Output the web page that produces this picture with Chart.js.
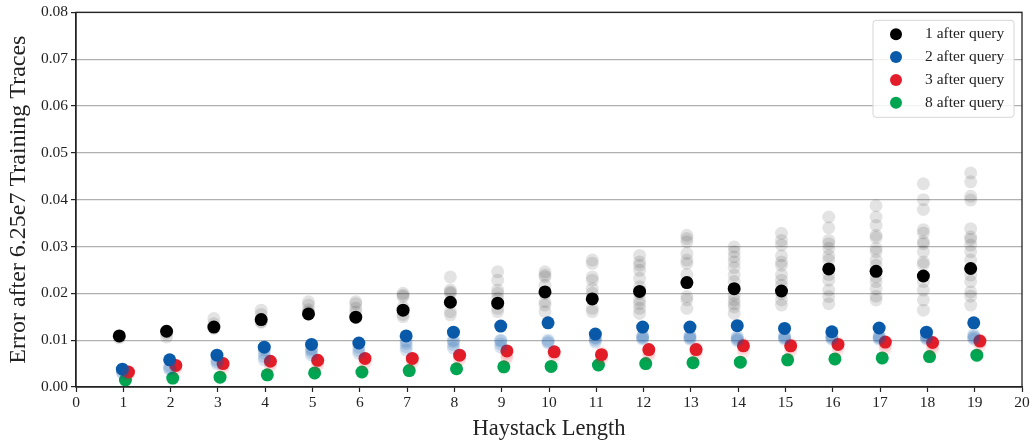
<!DOCTYPE html>
<html>
<head>
<meta charset="utf-8">
<script src="https://cdn.jsdelivr.net/npm/chart.js@4.4.1/dist/chart.umd.min.js"></script>
<style>
  html, body { margin: 0; padding: 0; background: #ffffff; }
  #wrap { width: 1032px; height: 443px; }
</style>
</head>
<body>
<div id="wrap"><canvas id="errChart" width="1032" height="443"></canvas></div>
<script>
// ---- data ----
const haystack = [1, 2, 3, 4, 5, 6, 7, 8, 9, 10, 11, 12, 13, 14, 15, 16, 17, 18, 19];
const seriesLabels = ["1 after query", "2 after query", "3 after query", "8 after query"];

const mean1 = [0.0109, 0.0119, 0.0128, 0.0144, 0.0156, 0.0149, 0.0164, 0.0181, 0.0179, 0.0203, 0.0188, 0.0204, 0.0223, 0.0210, 0.0205, 0.0252, 0.0247, 0.0237, 0.0253];
const mean2 = [0.0038, 0.0058, 0.0068, 0.0085, 0.0091, 0.0094, 0.0109, 0.0117, 0.0130, 0.0137, 0.0113, 0.0128, 0.0128, 0.0131, 0.0125, 0.0118, 0.0126, 0.0117, 0.0137];
const mean3 = [0.0032, 0.0046, 0.0050, 0.0055, 0.0057, 0.0061, 0.0061, 0.0068, 0.0077, 0.0075, 0.0069, 0.0080, 0.0080, 0.0088, 0.0088, 0.0091, 0.0096, 0.0095, 0.0098];
const mean8 = [0.0015, 0.0019, 0.0021, 0.0026, 0.0030, 0.0032, 0.0035, 0.0039, 0.0043, 0.0044, 0.0047, 0.0050, 0.0052, 0.0053, 0.0058, 0.0060, 0.0062, 0.0065, 0.0068];

// individual traces (faint markers), one list per haystack length
const traces1 = [
  [0.0105, 0.0108],
  [0.0107, 0.0115],
  [0.0146, 0.0135, 0.0125],
  [0.0164, 0.0155, 0.0140, 0.0138],
  [0.0182, 0.0175, 0.0165, 0.0160],
  [0.0182, 0.0178, 0.0168, 0.0160],
  [0.0200, 0.0196, 0.0193, 0.0170, 0.0155, 0.0150],
  [0.0235, 0.0207, 0.0203, 0.0200, 0.0161, 0.0154],
  [0.0246, 0.0228, 0.0207, 0.0200, 0.0190, 0.0168, 0.0161],
  [0.0246, 0.0239, 0.0235, 0.0217, 0.0200, 0.0182, 0.0175, 0.0161],
  [0.0271, 0.0264, 0.0235, 0.0228, 0.0210, 0.0200, 0.0168, 0.0161],
  [0.0281, 0.0267, 0.0260, 0.0249, 0.0232, 0.0214, 0.0200, 0.0186, 0.0178, 0.0168, 0.0157],
  [0.0324, 0.0317, 0.0310, 0.0285, 0.0271, 0.0264, 0.0240, 0.0193, 0.0186, 0.0168],
  [0.0299, 0.0289, 0.0278, 0.0267, 0.0255, 0.0239, 0.0225, 0.0196, 0.0186, 0.0178, 0.0171, 0.0157],
  [0.0328, 0.0313, 0.0303, 0.0280, 0.0267, 0.0260, 0.0240, 0.0228, 0.0217, 0.0200, 0.0186, 0.0175],
  [0.0363, 0.0340, 0.0313, 0.0306, 0.0296, 0.0280, 0.0271, 0.0240, 0.0228, 0.0207, 0.0193, 0.0178],
  [0.0387, 0.0363, 0.0345, 0.0324, 0.0319, 0.0296, 0.0289, 0.0271, 0.0260, 0.0235, 0.0225, 0.0210, 0.0194, 0.0186],
  [0.0434, 0.0400, 0.0379, 0.0336, 0.0329, 0.0310, 0.0306, 0.0289, 0.0267, 0.0262, 0.0225, 0.0207, 0.0186, 0.0164],
  [0.0457, 0.0438, 0.0407, 0.0399, 0.0338, 0.0320, 0.0315, 0.0303, 0.0289, 0.0271, 0.0239, 0.0225, 0.0203, 0.0194, 0.0175]
];
const traces2 = [
  [0.0033, 0.0030],
  [0.0045, 0.0040, 0.0038],
  [0.0058, 0.0054, 0.0050],
  [0.0079, 0.0072, 0.0065, 0.0058],
  [0.0082, 0.0079, 0.0074, 0.0068],
  [0.0093, 0.0085, 0.0078, 0.0072],
  [0.0098, 0.0093, 0.0086, 0.0079],
  [0.0100, 0.0097, 0.0090, 0.0083],
  [0.0100, 0.0098, 0.0092, 0.0085],
  [0.0100, 0.0097, 0.0094],
  [0.0106, 0.0104, 0.0100, 0.0096],
  [0.0110, 0.0107, 0.0105, 0.0102],
  [0.0110, 0.0107, 0.0105, 0.0102],
  [0.0108, 0.0104, 0.0102, 0.0099],
  [0.0110, 0.0107, 0.0105, 0.0102],
  [0.0110, 0.0107, 0.0105, 0.0102],
  [0.0110, 0.0107, 0.0105, 0.0102],
  [0.0110, 0.0107, 0.0105, 0.0102],
  [0.0112, 0.0108, 0.0105, 0.0102]
];
const traces3 = [
  [0.0030, 0.0027],
  [0.0042, 0.0038],
  [0.0046, 0.0040],
  [0.0050, 0.0045],
  [0.0052, 0.0046],
  [0.0056, 0.0050],
  [0.0057, 0.0052],
  [0.0063, 0.0058],
  [0.0072, 0.0066, 0.0062],
  [0.0071, 0.0066],
  [0.0073, 0.0065, 0.0060],
  [0.0077, 0.0072, 0.0068],
  [0.0084, 0.0076, 0.0070],
  [0.0092, 0.0083, 0.0075],
  [0.0092, 0.0083, 0.0077],
  [0.0094, 0.0086, 0.0079],
  [0.0093, 0.0088, 0.0082],
  [0.0092, 0.0087, 0.0081],
  [0.0101, 0.0094, 0.0088]
];
const traces8 = [
  [0.0013], [0.0018], [0.0020], [0.0025], [0.0029], [0.0031], [0.0034], [0.0038], [0.0041], [0.0043],
  [0.0046], [0.0049], [0.0051], [0.0052], [0.0056], [0.0058], [0.0060], [0.0063], [0.0066]
];

const yTicks = [0, 0.01, 0.02, 0.03, 0.04, 0.05, 0.06, 0.07, 0.08];

// ---- styling ----
const FONT = "'Liberation Serif', 'Times New Roman', serif";
const colors = ["#000000", "#0a5aaa", "#e31e2a", "#00a552"];
const faint = ["rgba(0,0,0,0.11)", "rgba(10,90,170,0.16)", "rgba(227,30,42,0.10)", "rgba(0,165,82,0.10)"];
const xShift = [-0.085, -0.02, 0.11, 0.045];

function meanPoints(arr, k) {
    return arr.map((v, i) => ({ x: haystack[i] + xShift[k], y: v }));
}
function tracePoints(arr, k) {
    const pts = [];
    arr.forEach((list, i) => list.forEach(v => pts.push({ x: haystack[i] + xShift[k], y: v })));
    return pts;
}

const means = [mean1, mean2, mean3, mean8];
const traces = [traces1, traces2, traces3, traces8];

const datasets = [];
traces.forEach((t, k) => {
    datasets.push({
        label: seriesLabels[k] + " traces",
        data: tracePoints(t, k),
        backgroundColor: faint[k],
        borderWidth: 0,
        pointRadius: 6.5,
        main: false
    });
});
means.forEach((m, k) => {
    datasets.push({
        label: seriesLabels[k],
        data: meanPoints(m, k),
        backgroundColor: colors[k],
        borderWidth: 0,
        pointRadius: 6.5,
        main: true
    });
});

// frame + legend box drawn on top of the plot
const framePlugin = {
    id: "frameLegend",
    afterDraw(chart) {
        const ctx = chart.ctx;
        const a = chart.chartArea;
        ctx.save();
        ctx.strokeStyle = "#222222";
        ctx.lineWidth = 1.3;
        ctx.strokeRect(a.left, a.top, a.right - a.left, a.bottom - a.top);

        // legend
        const bx = a.right - 149, by = a.top + 8, bw = 141, bh = 97;
        ctx.fillStyle = "rgba(255,255,255,0.85)";
        ctx.strokeStyle = "#d6d6d6";
        ctx.lineWidth = 1;
        ctx.beginPath();
        ctx.roundRect(bx, by, bw, bh, 3);
        ctx.fill();
        ctx.stroke();
        ctx.font = "15.5px " + FONT;
        ctx.textBaseline = "middle";
        const mains = chart.data.datasets.filter(d => d.main);
        mains.forEach((d, i) => {
            const yy = by + 14 + i * 22.8;
            ctx.fillStyle = d.backgroundColor;
            ctx.beginPath();
            ctx.arc(bx + 23, yy, 6, 0, Math.PI * 2);
            ctx.fill();
            ctx.fillStyle = "#222222";
            ctx.fillText(d.label, bx + 52, yy);
        });
        ctx.restore();
    }
};

new Chart(document.getElementById("errChart").getContext("2d"), {
    type: "scatter",
    data: { datasets },
    options: {
        responsive: false,
        animation: false,
        layout: { padding: { top: 12, right: 10, left: 0, bottom: 0 } },
        plugins: {
            legend: { display: false },
            tooltip: { enabled: false }
        },
        scales: {
            x: {
                type: "linear",
                min: 0,
                max: 20,
                afterFit: s => { s.height = 56; },
                ticks: { stepSize: 1, color: "#222222", font: { family: FONT, size: 15.5 }, padding: 2, maxRotation: 0 },
                grid: { drawOnChartArea: false, drawTicks: true, tickLength: 5, tickColor: "#222222", tickWidth: 1.2 },
                border: { color: "#222222", width: 1.3 },
                title: { display: true, text: "Haystack Length", color: "#222222", font: { family: FONT, size: 22.5 }, padding: { top: 0, bottom: 0 } }
            },
            y: {
                type: "linear",
                min: 0,
                max: 0.08,
                afterFit: s => { s.width = 76; },
                afterBuildTicks: s => { s.ticks = yTicks.map(v => ({ value: v })); },
                ticks: { color: "#222222", font: { family: FONT, size: 15.5 }, padding: 3, callback: v => v.toFixed(2) },
                grid: { color: "#b0b0b0", lineWidth: 1.2, drawTicks: true, tickLength: 5, tickColor: "#222222", tickWidth: 1.2 },
                border: { color: "#222222", width: 1.3 },
                title: { display: true, text: "Error after 6.25e7 Training Traces", color: "#222222", font: { family: FONT, size: 24 }, padding: { top: 4, bottom: 2 } }
            }
        }
    },
    plugins: [framePlugin]
});
</script>
</body>
</html>
